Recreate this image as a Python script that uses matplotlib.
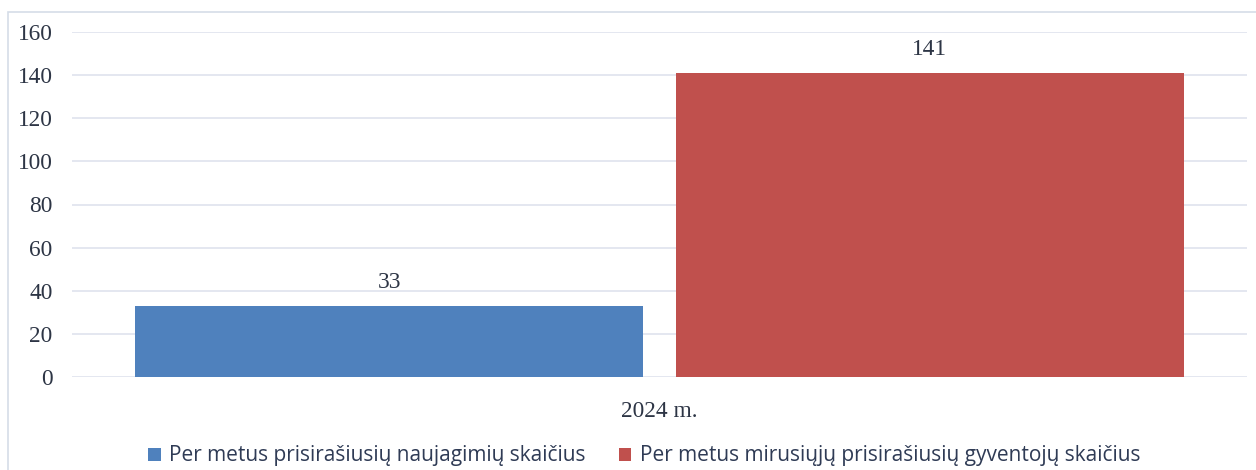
import matplotlib.pyplot as plt
from matplotlib.patches import Rectangle

categories = ["2024 m."]
series_names = ["Per metus prisirašiusių naujagimių skaičius",
                "Per metus mirusiųjų prisirašiusių gyventojų skaičius"]
values = [33, 141]
colors = ["#4f81bd", "#c0504d"]
y_ticks = [0, 20, 40, 60, 80, 100, 120, 140, 160]

fig = plt.figure(figsize=(12.56, 4.70), dpi=100)
ax = fig.add_axes([72 / 1256, 1 - 377 / 470, 1175 / 1256, 345 / 470])

# outer chart frame
fig.patches.append(Rectangle((8 / 1256, -0.1), 1.2, 1 - 12 / 470 + 0.1,
                             transform=fig.transFigure, fill=False,
                             edgecolor="#d5dde8", linewidth=1.2))

offsets = [-0.23, 0.23]
width = 0.432
tick_font = {"family": "Liberation Serif", "size": 16.8}
for i, (name, v) in enumerate(zip(series_names, values)):
    ax.bar(offsets[i], v, width=width, color=colors[i], label=name, zorder=3)
    ax.text(offsets[i], v + 6, str(v), ha="center", va="bottom",
            color="#2d3545", **tick_font)

ax.set_xlim(-0.5, 0.5)
ax.set_ylim(0, 160)
ax.set_yticks(y_ticks)
ax.set_yticklabels([str(t) for t in y_ticks], color="#2d3545", **tick_font)
ax.set_xticks([0])
ax.set_xticklabels(categories, color="#2d3545", **tick_font)
ax.tick_params(axis="y", length=0, pad=14)
ax.tick_params(axis="x", length=0, pad=17)
ax.grid(axis="y", color="#dfe3ee", linewidth=1.2, zorder=0)
for s in ax.spines.values():
    s.set_visible(False)

leg = fig.legend(loc="center", bbox_to_anchor=(0.513, 1 - 456 / 470), ncol=2,
                 frameon=False, handlelength=0.6, handleheight=0.6,
                 handletextpad=0.4, columnspacing=1.6,
                 prop={"family": "Open Sans", "size": 15})
for t in leg.get_texts():
    t.set_color("#2f3b55")

fig.savefig("out.png", dpi=100)
